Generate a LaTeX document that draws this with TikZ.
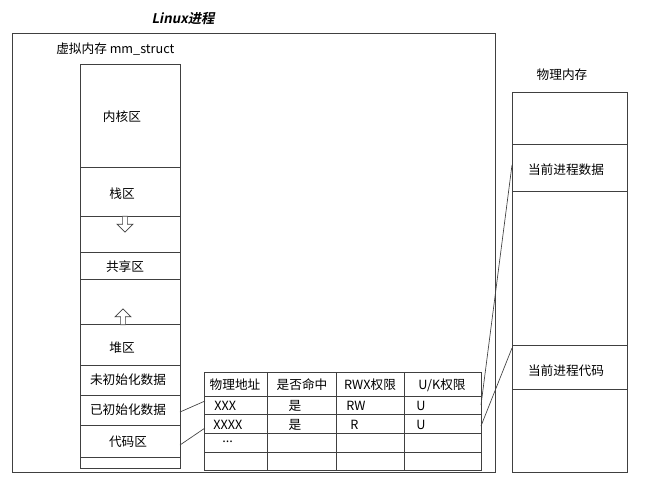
\documentclass[tikz,border=0pt]{standalone}
\usepackage{fontspec}
\setmainfont{Noto Sans CJK SC}
\newfontfamily\titlefont[FakeSlant=0.2]{Noto Sans CJK SC Bold}
\usetikzlibrary{shapes.arrows}
\begin{document}
\begin{tikzpicture}[x=0.75pt,y=-0.75pt,
  box/.style={draw=black!75,line width=0.6pt},
  lbl/.style={font=\fontsize{9.5}{10}\selectfont,inner sep=0pt},
  conn/.style={draw=black!75,line width=0.5pt},
  blk/.style={single arrow,draw=black!75,line width=0.5pt,minimum height=12pt,single arrow head extend=2.5pt,minimum width=12pt,inner sep=0.8pt,fill=white}]
\useasboundingbox (0,0) rectangle (651,494);
% outer process box
\draw[box] (12,33) rectangle (495,472);
\node[lbl,font=\fontsize{10}{10}\titlefont] (title) at (183,18) {Linux进程};
\node[lbl,anchor=west] (vm) at (56,49) {虚拟内存 mm\_struct};
% virtual memory column
\draw[box] (80,64) rectangle (180,468);
\foreach \y in {167,216,252,279,324,365,395,425,457} \draw[box] (80,\y) -- (180,\y);
\node[lbl] (kern) at (122,117) {内核区};
\node[lbl] (stack) at (122,194) {栈区};
\node[blk,shape border rotate=270] (down) at (125,223) {};
\node[lbl] (share) at (125,267) {共享区};
\node[blk,shape border rotate=90] (up) at (123,318) {};
\node[lbl] (heap) at (122,348) {堆区};
\node[lbl] (bss) at (128,380) {未初始化数据};
\node[lbl] (data) at (128,410) {已初始化数据};
\node[lbl] (code) at (128,442) {代码区};
% table
\draw[box] (204,372) rectangle (481,470);
\foreach \y in {396,414,433,452} \draw[box] (204,\y) -- (481,\y);
\foreach \x in {267,336,404} \draw[box] (\x,372) -- (\x,470);
\node[lbl] (h1) at (235,385) {物理地址};
\node[lbl] (h2) at (302,385) {是否命中};
\node[lbl] (h3) at (370,385) {RWX权限};
\node[lbl] (h4) at (442,385) {U/K权限};
\node[lbl,anchor=west] (a1) at (214,406) {XXX};
\node[lbl] (b1) at (295,406) {是};
\node[lbl,anchor=west] (c1) at (346,406) {RW};
\node[lbl,anchor=west] (d1) at (416,406) {U};
\node[lbl,anchor=west] (a2) at (213,425) {XXXX};
\node[lbl] (b2) at (295,425) {是};
\node[lbl,anchor=west] (c2) at (350,425) {R};
\node[lbl,anchor=west] (d2) at (416,425) {U};
\node[lbl,anchor=west] (a3) at (222,442) {...};
\coordinate (r1) at (481,405);
\coordinate (r2) at (481,426);
\coordinate (t1) at (205,401);
\coordinate (t2) at (205,428);
\coordinate (v1) at (180,412);
\coordinate (v2) at (180,445);
% physical memory
\node[lbl] (pm) at (562,75) {物理内存};
\draw[box] (512,92) rectangle (627,472);
\foreach \y in {144,191,345,389} \draw[box] (512,\y) -- (627,\y);
\node[lbl] (pd) at (566,170) {当前进程数据};
\node[lbl] (pc) at (566,371) {当前进程代码};
\coordinate (p1) at (512,165);
\coordinate (p2) at (512,348);
% connectors
\draw[conn] (v1) -- (t1);
\draw[conn] (v2) -- (t2);
\draw[conn] (r1) -- (p1);
\draw[conn] (r2) -- (p2);
\end{tikzpicture}
\end{document}
